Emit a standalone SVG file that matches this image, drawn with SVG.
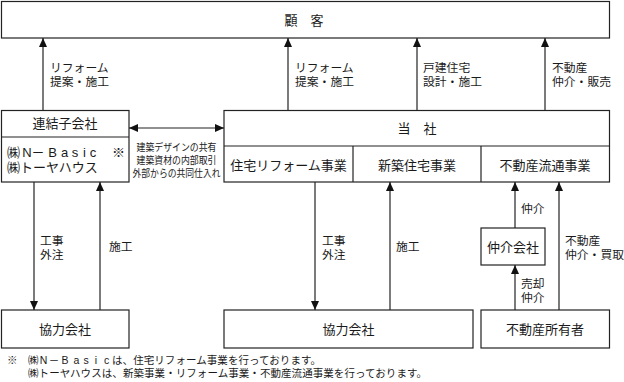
<svg xmlns="http://www.w3.org/2000/svg" width="624" height="382" viewBox="0 0 624 382">
<defs>
<style>
.box{fill:#fff;stroke:#222;stroke-width:1.2}
.ln{stroke:#222;stroke-width:1.2;fill:none}
.arr{marker-end:url(#ah)}
text{font-family:"Liberation Sans","Noto Sans CJK JP","Noto Sans CJK SC",sans-serif;fill:#1a1a1a}
.t13{font-size:13px;text-anchor:middle;dominant-baseline:central}
.t13s{font-size:13px;dominant-baseline:central}
.lb{font-size:11.8px;dominant-baseline:central}
.sm{font-size:10px;text-anchor:middle;dominant-baseline:central}
.fn{font-size:10.5px;dominant-baseline:central}
</style>
<marker id="ah" markerUnits="userSpaceOnUse" markerWidth="10" markerHeight="9" refX="9" refY="4.5" orient="auto-start-reverse" viewBox="0 0 10 9">
<path d="M0,0.5 L9,4.5 L0,8.5 z" fill="#111"/>
</marker>
</defs>

<g id="kokyaku">
<rect class="box" x="1.5" y="1.5" width="608" height="36.5"/>
<text class="t13" x="304" y="20">顧　客</text>
</g>

<g id="renketsu">
<rect class="box" x="1.5" y="110.5" width="127.5" height="71.5"/>
<line class="ln" x1="1.5" y1="137" x2="129" y2="137"/>
<text class="t13" x="65" y="123">連結子会社</text>
<text class="t13s" x="7" y="152"><tspan>㈱</tspan><tspan x="27 38 52.5 64.5 75 84.5 93" text-anchor="middle">N－Basic</tspan><tspan x="118.5" text-anchor="middle">※</tspan><tspan x="7" y="167">㈱トーヤハウス</tspan></text>
</g>

<g id="tousha">
<rect class="box" x="224" y="110.5" width="385.5" height="71.5"/>
<line class="ln" x1="224" y1="146" x2="609.5" y2="146"/>
<line class="ln" x1="353" y1="146" x2="353" y2="182"/>
<line class="ln" x1="481" y1="146" x2="481" y2="182"/>
<text class="t13" x="417" y="128">当　社</text>
<text class="t13" x="288.5" y="165">住宅リフォーム事業</text>
<text class="t13" x="417" y="165">新築住宅事業</text>
<text class="t13" x="545" y="165">不動産流通事業</text>
</g>

<g id="kyoryoku1">
<rect class="box" x="1.5" y="310" width="127.5" height="38"/>
<text class="t13" x="65" y="329">協力会社</text>
</g>

<g id="kyoryoku2">
<rect class="box" x="224" y="310" width="249" height="38"/>
<text class="t13" x="348.5" y="329">協力会社</text>
</g>

<g id="chukai">
<rect class="box" x="481" y="228" width="64" height="37"/>
<text class="t13" x="513" y="247">仲介会社</text>
</g>

<g id="shoyusha">
<rect class="box" x="481" y="310" width="128.5" height="38"/>
<text class="t13" x="545" y="329">不動産所有者</text>
</g>

<g id="connectors">
<line class="ln arr" x1="43" y1="110.5" x2="43" y2="38"/>
<line class="ln arr" x1="288" y1="110.5" x2="288" y2="38"/>
<line class="ln arr" x1="417" y1="110.5" x2="417" y2="38"/>
<line class="ln arr" x1="545" y1="110.5" x2="545" y2="38"/>
<line class="ln" x1="129" y1="128" x2="224" y2="128" style="marker-start:url(#ah);marker-end:url(#ah)"/>
<line class="ln arr" x1="34" y1="182" x2="34" y2="310"/>
<line class="ln arr" x1="100" y1="310" x2="100" y2="182"/>
<line class="ln arr" x1="315" y1="182" x2="315" y2="310"/>
<line class="ln arr" x1="390" y1="310" x2="390" y2="182"/>
<line class="ln arr" x1="515" y1="228" x2="515" y2="182"/>
<line class="ln arr" x1="515" y1="310" x2="515" y2="265"/>
<line class="ln arr" x1="559" y1="310" x2="559" y2="182"/>

<text class="lb" x="50" y="68">リフォーム<tspan x="50" y="82">提案・施工</tspan></text>
<text class="lb" x="295" y="68">リフォーム<tspan x="295" y="82">提案・施工</tspan></text>
<text class="lb" x="423" y="68">戸建住宅<tspan x="423" y="82">設計・施工</tspan></text>
<text class="lb" x="552" y="68">不動産<tspan x="552" y="82">仲介・販売</tspan></text>

<text class="sm" x="176.5" y="147"><tspan textLength="80" lengthAdjust="spacingAndGlyphs">建築デザインの共有</tspan><tspan x="176.5" y="160" textLength="80" lengthAdjust="spacingAndGlyphs">建築資材の内部取引</tspan><tspan x="176.5" y="173" textLength="88" lengthAdjust="spacingAndGlyphs">外部からの共同仕入れ</tspan></text>

<text class="lb" x="40" y="241">工事<tspan x="40" y="255">外注</tspan></text>
<text class="lb" x="109" y="247">施工</text>
<text class="lb" x="322" y="241">工事<tspan x="322" y="255">外注</tspan></text>
<text class="lb" x="396" y="247">施工</text>
<text class="lb" x="521" y="209">仲介</text>
<text class="lb" x="521" y="284">売却<tspan x="521" y="298">仲介</tspan></text>
<text class="lb" x="565" y="241">不動産<tspan x="565" y="255">仲介・買取</tspan></text>
</g>

<g id="footnote">
<text class="fn" x="7" y="360">※<tspan x="28">㈱</tspan><tspan x="43.5 54 65 76.5 86 96 106.5" text-anchor="middle">N－Basic</tspan><tspan x="112" textLength="209" lengthAdjust="spacing">は、住宅リフォーム事業を行っております。</tspan><tspan x="28" y="373" textLength="399" lengthAdjust="spacing">㈱トーヤハウスは、新築事業・リフォーム事業・不動産流通事業を行っております。</tspan></text>
</g>
</svg>
